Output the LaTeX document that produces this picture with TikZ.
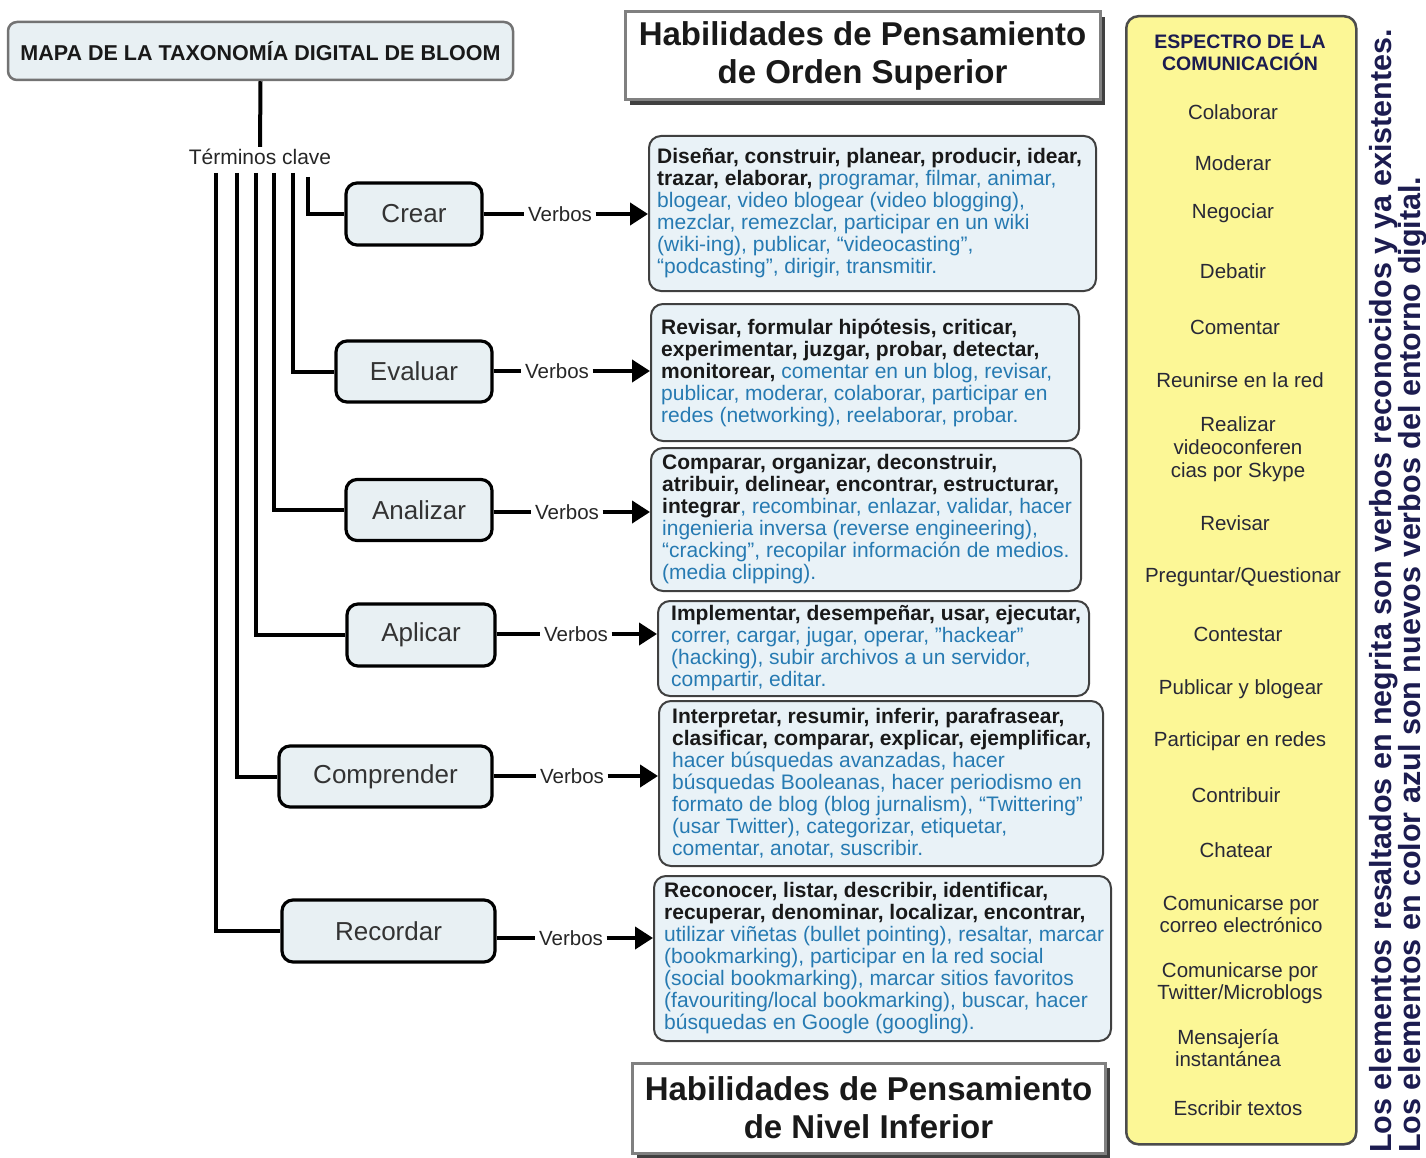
\documentclass[tikz,border=0pt]{standalone}
\usepackage{fontspec}
\setmainfont{Liberation Sans}
\usetikzlibrary{arrows.meta,shadows}
\definecolor{vblue}{RGB}{38,122,178}
\definecolor{lvlfill}{RGB}{232,240,243}
\definecolor{vfill}{RGB}{233,242,247}
\definecolor{yel}{RGB}{252,247,150}
\definecolor{navy}{RGB}{28,28,80}
\definecolor{spitemc}{RGB}{40,40,55}
\newcommand{\vbold}[1]{\textbf{\color{black!90}#1}}
\begin{document}
\begin{tikzpicture}[x=1pt,y=-1pt,
  treeline/.style={line width=4pt, black},
  titlebox/.style={draw=black!55, line width=2.5pt, rounded corners=9pt, fill=lvlfill, font=\bfseries\fontsize{21.5}{24}\selectfont, text=black!90, inner sep=0pt},
  lvl/.style={draw=black, line width=3.2pt, rounded corners=11pt, fill=lvlfill, text=black!80, font=\fontsize{26}{30}\selectfont, inner sep=0pt},
  verblab/.style={font=\fontsize{20.5}{22}\selectfont, text=black!85, inner sep=3.5pt},
  link/.style={line width=4pt},
  verbarrow/.style={line width=4pt, -{Triangle[length=18pt,width=22pt]}},
  vbox/.style={draw=black!75, line width=2pt, rounded corners=12pt, fill=vfill, anchor=north west, inner sep=0pt},
  vtext/.style={anchor=west, align=left, font=\fontsize{21}{22}\selectfont, text=vblue, inner sep=0pt},
  hdr/.style={draw=black!50, line width=3pt, fill=white, drop shadow={shadow xshift=5pt, shadow yshift=-5pt, fill=black!75, opacity=1}, font=\bfseries\fontsize{33}{38}\selectfont, align=center, text=black!90, inner sep=0pt},
  spitem/.style={font=\fontsize{20.5}{23}\selectfont, text=spitemc, align=center, inner sep=0pt},
  note/.style={font=\bfseries\fontsize{30.5}{27}\selectfont, text=navy, align=left, inner sep=0pt}
]
\useasboundingbox (0,0) rectangle (1426,1158);

% title and key terms
\node[titlebox, minimum width=505pt, minimum height=58pt] (title) at (260.5,51) {MAPA DE LA TAXONOMÍA DIGITAL DE BLOOM};
\node[font=\fontsize{21}{24}\selectfont, text=black!85, inner sep=2pt] (term) at (260,157) {Términos clave};
\draw[treeline] (title.south) -- (term.north);

% level boxes
\node[lvl, minimum width=136pt, minimum height=62pt] (crear) at (414,214) {Crear};
\node[lvl, minimum width=156pt, minimum height=61pt] (evaluar) at (414,371.5) {Evaluar};
\node[lvl, minimum width=146pt, minimum height=61pt] (analizar) at (419,510) {Analizar};
\node[lvl, minimum width=148pt, minimum height=62pt] (aplicar) at (421,635) {Aplicar};
\node[lvl, minimum width=213pt, minimum height=61pt] (comprender) at (385.5,776.5) {Comprender};
\node[lvl, minimum width=213pt, minimum height=62pt] (recordar) at (388.5,931) {Recordar};

% tree
\coordinate (k1) at (216,173);
\coordinate (k2) at (237,173);
\coordinate (k3) at (256,173);
\coordinate (k4) at (274,173);
\coordinate (k5) at (293,173);
\coordinate (k6) at (308,177);
\draw[treeline] (k6) |- (crear.west);
\draw[treeline] (k5) |- (evaluar.west);
\draw[treeline] (k4) |- (analizar.west);
\draw[treeline] (k3) |- (aplicar.west);
\draw[treeline] (k2) |- (comprender.west);
\draw[treeline] (k1) |- (recordar.west);

% verb boxes
\node[vbox, minimum width=447pt, minimum height=155pt] (vcrear) at (648,135) {};
\node[vbox, minimum width=428pt, minimum height=137pt] (vevaluar) at (650,303) {};
\node[vbox, minimum width=430pt, minimum height=143pt] (vanalizar) at (650,447) {};
\node[vbox, minimum width=431pt, minimum height=95pt] (vaplicar) at (657,600) {};
\node[vbox, minimum width=444pt, minimum height=165pt] (vcomprender) at (658,700) {};
\node[vbox, minimum width=457pt, minimum height=165pt] (vrecordar) at (653,875) {};

\node[vtext] (tcrear) at ([xshift=9pt]vcrear.west) {\vbold{Diseñar, construir, planear, producir, idear,}\\
\vbold{trazar, elaborar,} programar, filmar, animar,\\
blogear, video blogear (video blogging),\\
mezclar, remezclar, participar en un wiki\\
(wiki-ing), publicar, “videocasting”,\\
“podcasting”, dirigir, transmitir.};
\node[vtext] (tevaluar) at ([xshift=11pt]vevaluar.west) {\vbold{Revisar, formular hipótesis, criticar,}\\
\vbold{experimentar, juzgar, probar, detectar,}\\
\vbold{monitorear,} comentar en un blog, revisar,\\
publicar, moderar, colaborar, participar en\\
redes (networking), reelaborar, probar.};
\node[vtext] (tanalizar) at ([xshift=12pt]vanalizar.west) {\vbold{Comparar, organizar, deconstruir,}\\
\vbold{atribuir, delinear, encontrar, estructurar,}\\
\vbold{integrar}, recombinar, enlazar, validar, hacer\\
ingenieria inversa (reverse engineering),\\
“cracking”, recopilar información de medios.\\
(media clipping).};
\node[vtext] (taplicar) at ([xshift=14pt]vaplicar.west) {\vbold{Implementar, desempeñar, usar, ejecutar,}\\
correr, cargar, jugar, operar, "hackear"\\
(hacking), subir archivos a un servidor,\\
compartir, editar.};
\node[vtext] (tcomprender) at ([xshift=14pt]vcomprender.west) {\vbold{Interpretar, resumir, inferir, parafrasear,}\\
\vbold{clasificar, comparar, explicar, ejemplificar,}\\
hacer búsquedas avanzadas, hacer\\
búsquedas Booleanas, hacer periodismo en\\
formato de blog (blog jurnalism), “Twittering”\\
(usar Twitter), categorizar, etiquetar,\\
comentar, anotar, suscribir.};
\node[vtext] (trecordar) at ([xshift=11pt]vrecordar.west) {\vbold{Reconocer, listar, describir, identificar,}\\
\vbold{recuperar, denominar, localizar, encontrar,}\\
utilizar viñetas (bullet pointing), resaltar, marcar\\
(bookmarking), participar en la red social\\
(social bookmarking), marcar sitios favoritos\\
(favouriting/local bookmarking), buscar, hacer\\
búsquedas en Google (googling).};

% Verbos labels and arrows
\node[verblab] (l1) at (560,214) {Verbos};
\node[verblab] (l2) at (557,371) {Verbos};
\node[verblab] (l3) at (567,512) {Verbos};
\node[verblab] (l4) at (576,634) {Verbos};
\node[verblab] (l5) at (572,776) {Verbos};
\node[verblab] (l6) at (571,938) {Verbos};
\foreach \a/\l/\v in {crear/l1/vcrear, evaluar/l2/vevaluar, analizar/l3/vanalizar, aplicar/l4/vaplicar, comprender/l5/vcomprender, recordar/l6/vrecordar}{
  \draw[link] (\l.west -| \a.east) -- (\l.west);
  \draw[verbarrow] (\l.east) -- (\l.east -| \v.west);
}

% headers
\node[hdr, minimum width=475pt, minimum height=88pt] (hup) at (862.5,56) {Habilidades de Pensamiento\\de Orden Superior};
\node[hdr, minimum width=473pt, minimum height=90pt] (hlow) at (868.5,1108) {Habilidades de Pensamiento\\de Nivel Inferior};

% communication spectrum
\node[draw=black!70, line width=2.5pt, rounded corners=12pt, fill=yel, minimum width=230pt, minimum height=1128pt, anchor=north west, inner sep=0pt] (spec) at (1125,15) {};
\node[font=\bfseries\fontsize{19.5}{22}\selectfont, text=navy, align=center, inner sep=0pt] (spech) at (1240,53) {ESPECTRO DE LA\\COMUNICACIÓN};
\node[spitem] (s1) at (1233,112) {Colaborar};
\node[spitem] (s2) at (1233,163) {Moderar};
\node[spitem] (s3) at (1233,213) {Negociar};
\node[spitem] (s4) at (1233,271) {Debatir};
\node[spitem] (s5) at (1235,327) {Comentar};
\node[spitem] (s6) at (1240,380) {Reunirse en la red};
\node[spitem] (s7) at (1238,449) {Realizar\\videoconferen\\cias por Skype};
\node[spitem] (s8) at (1235,523) {Revisar};
\node[spitem] (s9) at (1243,577) {Preguntar/Questionar};
\node[spitem] (s10) at (1238,634) {Contestar};
\node[spitem] (s11) at (1241,689) {Publicar y blogear};
\node[spitem] (s12) at (1240,741) {Participar en redes};
\node[spitem] (s13) at (1236,795) {Contribuir};
\node[spitem] (s14) at (1236,850) {Chatear};
\node[spitem, font=\fontsize{20.5}{22}\selectfont] (s15) at (1241,914) {Comunicarse por\\correo electrónico};
\node[spitem, font=\fontsize{20.5}{22}\selectfont] (s16) at (1240,983) {Comunicarse por\\Twitter/Microblogs};
\node[spitem, font=\fontsize{20.5}{22}\selectfont] (s17) at (1228,1048) {Mensajería\\instantánea};
\node[spitem] (s18) at (1238,1108) {Escribir textos};

% vertical note
\node[note, rotate=90, anchor=north west] (note) at (1369,1153) {Los elementos resaltados en negrita son verbos reconocidos y ya existentes.\\Los elementos en color azul son nuevos verbos del entorno digital.};
\end{tikzpicture}
\end{document}
